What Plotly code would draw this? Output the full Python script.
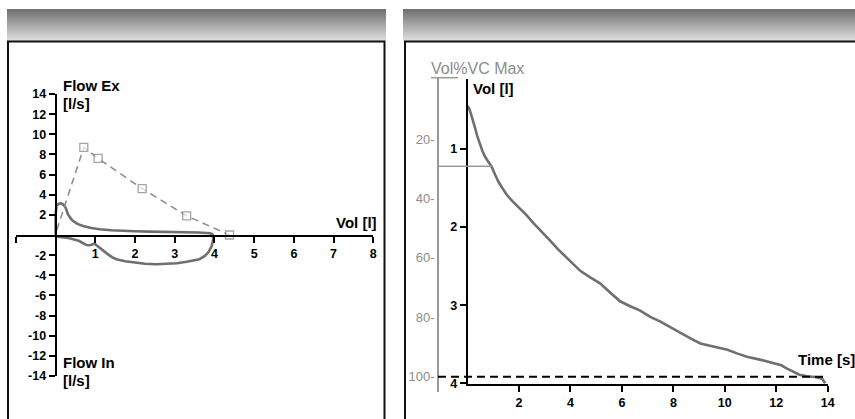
import plotly.graph_objects as go

W, H = 855, 419

# ---------------- data ----------------
# Flow-volume loop (left panel): volume [l], flow [l/s]
fv_vol = [0.0, 0.0, 0.02, 0.08, 0.14, 0.2, 0.25, 0.31, 0.38, 0.44, 0.55, 0.69, 0.9, 1.11, 1.4, 1.7, 2.0,
          2.37, 2.8, 3.28, 3.6, 3.89, 3.95, 3.97, 3.93, 3.85, 3.75, 3.62, 3.47, 3.3, 3.05, 2.8, 2.54,
          2.25, 1.95, 1.75, 1.53, 1.42, 1.32, 1.2, 1.11, 1.04, 0.98, 0.92, 0.86, 0.78, 0.73, 0.65,
          0.6, 0.48, 0.35, 0.2, 0.02, 0.0]
fv_flow = [0.0, 2.0, 2.9, 3.1, 3.15, 3.0, 2.72, 2.06, 1.65, 1.39, 1.1, 0.9, 0.7, 0.57, 0.47, 0.4, 0.37,
           0.34, 0.31, 0.3, 0.25, 0.17, 0.08, -0.4, -1.1, -1.7, -2.1, -2.4, -2.55, -2.65, -2.8, -2.88,
           -2.9, -2.85, -2.74, -2.6, -2.4, -2.2, -1.92, -1.55, -1.25, -1.0, -0.86, -0.95, -1.02, -1.0,
           -0.92, -0.72, -0.6, -0.45, -0.33, -0.25, -0.16, 0.0]

# Predicted expiratory curve
pred_vol = [0.03, 0.71, 1.07, 2.18, 3.3, 4.38]
pred_flow = [0.5, 8.7, 7.6, 4.6, 1.9, 0.0]

# Volume-time curve (right panel): time [s], volume [l]
vt_time = [0.0, 0.05, 0.1, 0.2, 0.29, 0.38, 0.48, 0.58, 0.68, 0.8, 0.94, 1.07, 1.2, 1.35, 1.53, 1.75,
           2.04, 2.3, 2.56, 2.9, 3.2, 3.5, 3.8, 4.1, 4.38, 4.75, 5.15, 5.55, 5.93, 6.3, 6.71, 7.1,
           7.5, 7.88, 8.3, 8.7, 9.05, 9.6, 10.1, 10.5, 10.86, 11.4, 11.9, 12.2, 12.4, 12.65, 12.9,
           13.2, 13.5, 13.78, 13.9]
vt_vol = [0.45, 0.47, 0.52, 0.62, 0.73, 0.84, 0.95, 1.03, 1.1, 1.16, 1.23, 1.33, 1.42, 1.5, 1.59, 1.67,
          1.76, 1.85, 1.95, 2.06, 2.17, 2.28, 2.38, 2.47, 2.56, 2.64, 2.72, 2.84, 2.95, 3.01, 3.07, 3.15,
          3.21, 3.28, 3.36, 3.43, 3.49, 3.53, 3.57, 3.62, 3.66, 3.7, 3.74, 3.77, 3.81, 3.85, 3.89,
          3.91, 3.92, 3.94, 4.0]

fev1_vol = 1.22
fev1_time = 0.93
vc_max_pct = 100

# tick definitions
flow_tickvals = [14, 12, 10, 8, 6, 4, 2, -2, -4, -6, -8, -10, -12, -14]
flow_ticktext = [str(v) for v in flow_tickvals]
fvvol_tickvals = [-1, 1, 2, 3, 4, 5, 6, 7, 8]
fvvol_ticktext = [""] + [str(v) for v in fvvol_tickvals[1:]]
time_tickvals = [2, 4, 6, 8, 10, 12, 14]
vol_tickvals = [1, 2, 3, 4]
pct_tickvals = [20, 40, 60, 80, 100]
pct_ticktext = [f"{v}-" for v in pct_tickvals]


def px(x):
    return x / W


def py(y):
    return 1 - y / H


FONT = "Liberation Sans, Arial, sans-serif"
CURVE = "#6f6f6f"

fig = go.Figure()

fig.add_trace(go.Scatter(x=fv_vol, y=fv_flow, mode="lines", xaxis="x", yaxis="y",
                         line=dict(color=CURVE, width=2.6), hoverinfo="skip"))
fig.add_trace(go.Scatter(x=pred_vol, y=pred_flow, mode="lines+markers", xaxis="x", yaxis="y",
                         line=dict(color="#8a8a8a", width=1.5, dash="7px,5px"),
                         marker=dict(symbol="square", size=[0, 8, 8, 8, 8, 8], color="white",
                                     line=dict(color="#808080", width=1.3)),
                         hoverinfo="skip"))
fig.add_trace(go.Scatter(x=vt_time, y=vt_vol, mode="lines", xaxis="x2", yaxis="y2",
                         line=dict(color=CURVE, width=2.6), hoverinfo="skip"))

axis_common = dict(showgrid=False, zeroline=False, showline=True, linecolor="black", linewidth=2,
                   ticks="outside", ticklen=6, tickwidth=2, tickcolor="black", automargin=False,
                   tickfont=dict(family=FONT, size=12.5, color="black", weight="bold"), fixedrange=True)

shapes = []
# gradient headers
top, bottom = 9, 41
n = bottom - top
for i in range(n):
    f = i / (n - 1)
    c = int(112 + (222 - 112) * f)
    col = f"rgb({c},{c},{c})"
    for x0, x1 in [(7, 386), (403, 855)]:
        shapes.append(dict(type="rect", xref="paper", yref="paper", x0=px(x0), x1=px(x1),
                           y0=py(top + i + 1), y1=py(top + i), line=dict(width=0), fillcolor=col,
                           layer="below"))
# panel boxes
shapes.append(dict(type="rect", xref="paper", yref="paper", x0=px(8), x1=px(384.5), y0=py(430), y1=py(41.5),
                   line=dict(color="#111", width=2)))
shapes.append(dict(type="rect", xref="paper", yref="paper", x0=px(405), x1=px(870), y0=py(430), y1=py(41.5),
                   line=dict(color="#111", width=2)))
# Vol%VC Max underline
shapes.append(dict(type="line", xref="paper", yref="paper", x0=px(431), x1=px(458), y0=py(77.7), y1=py(77.7),
                   line=dict(color="#999999", width=1.5)))
# FEV1 marker line
shapes.append(dict(type="line", xref="paper", yref="y2", x0=px(438), x1=px(467.6 + fev1_time * 25.72),
                   y0=fev1_vol, y1=fev1_vol, line=dict(color="#999999", width=1.5)))
# 100% VC line
shapes.append(dict(type="line", xref="paper", yref="y3", x0=px(438), x1=px(825), y0=vc_max_pct,
                   y1=vc_max_pct, line=dict(color="black", width=2, dash="8px,5px")))

ann = []


def label(text, x, y, anchor="left", size=15, color="black", bold=True):
    ann.append(dict(text=text, x=px(x), y=py(y), xref="paper", yref="paper", showarrow=False,
                    xanchor=anchor, yanchor="middle",
                    font=dict(family=FONT, size=size, color=color, weight="bold" if bold else "normal")))


label("Flow Ex", 61, 85)
label("[l/s]", 61, 103)
label("Flow In", 61, 362)
label("[l/s]", 61, 380)
label("Vol [l]", 379, 222, anchor="right")
label("Vol [l]", 471, 88)
label("Time [s]", 857, 359, anchor="right")
label("Vol%VC Max", 429, 69, size=16, color="#8c8c8c", bold=False)

fig.update_layout(
    width=W, height=H, autosize=False, showlegend=False,
    margin=dict(l=0, r=0, t=0, b=0, pad=0, autoexpand=False),
    paper_bgcolor="white", plot_bgcolor="rgba(0,0,0,0)",
    xaxis=dict(axis_common, domain=[px(15.9), px(373.3)], range=[-1, 8], anchor="free",
               position=py(235.9), tickvals=fvvol_tickvals, ticktext=fvvol_ticktext),
    yaxis=dict(axis_common, domain=[py(376), py(94)], range=[-14, 14], anchor="free",
               position=px(55.6), tickvals=flow_tickvals, ticktext=flow_ticktext),
    xaxis2=dict(axis_common, domain=[px(467.6), px(827.7)], range=[0, 14], anchor="y2",
                tickvals=time_tickvals),
    yaxis2=dict(axis_common, domain=[py(384), py(79)], range=[4.009, 0.104], anchor="x2",
                tickvals=vol_tickvals),
    yaxis3=dict(domain=[py(391.7), py(77.7)], range=[105.05, -0.64], anchor="free", position=px(438),
                showline=True, linecolor="#999999", linewidth=1.5, showgrid=False, zeroline=False,
                ticks="", tickvals=pct_tickvals, ticktext=pct_ticktext, fixedrange=True, automargin=False,
                tickfont=dict(family=FONT, size=13, color="#8c8c8c")),
    shapes=shapes, annotations=ann,
)

fig.write_html("out.html", config={"displayModeBar": False},
               post_script="document.body.style.margin='0';document.body.style.overflow='hidden';")
